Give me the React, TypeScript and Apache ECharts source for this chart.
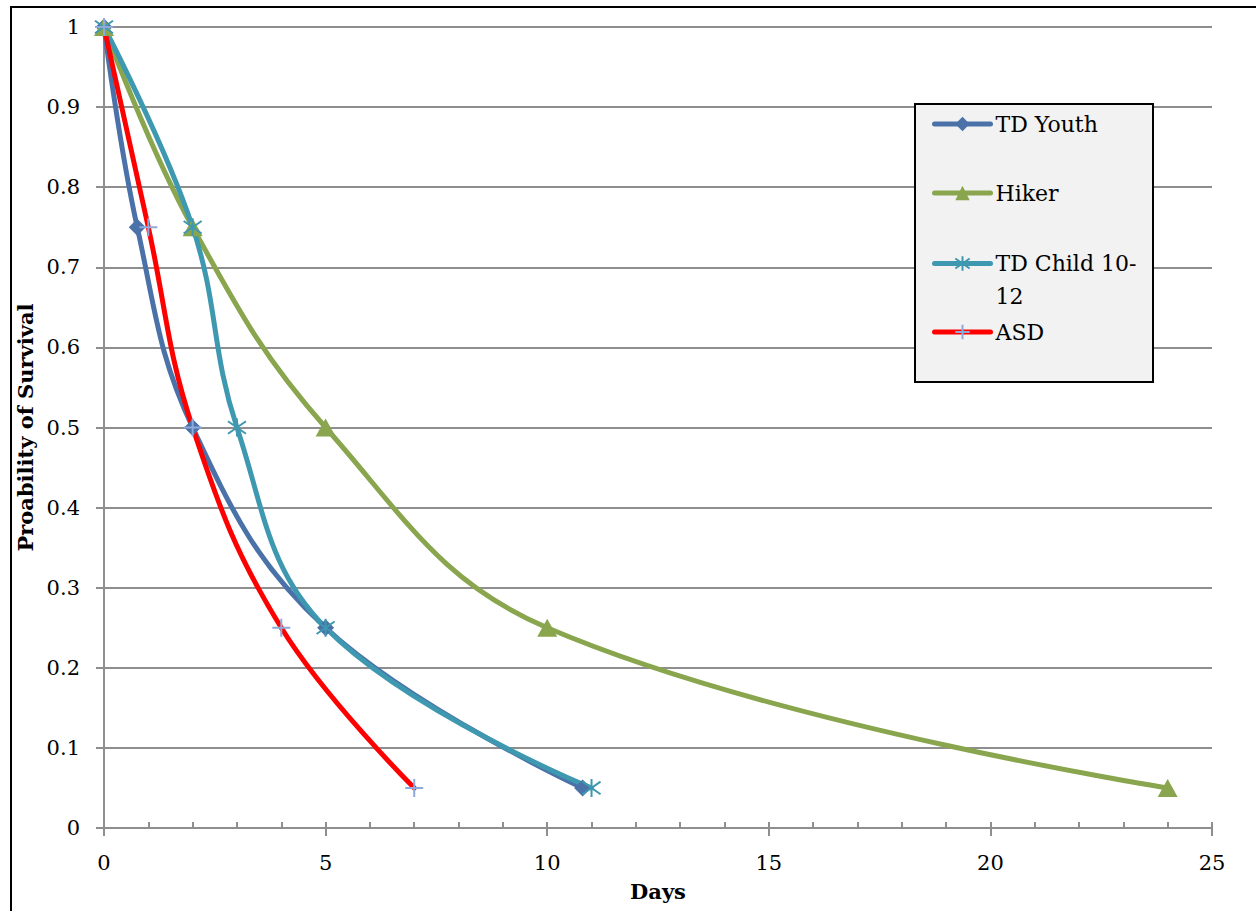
import React, { useEffect, useRef } from "react";
import * as echarts from "echarts";

// ---- data ----
const seriesNames = ["TD Youth", "Hiker", "TD Child 10-12", "ASD"];
const tdYouthDays = [0, 0.75, 2, 5, 10.8];
const tdYouthSurvival = [1, 0.75, 0.5, 0.25, 0.05];
const hikerDays = [0, 2, 5, 10, 24];
const hikerSurvival = [1, 0.75, 0.5, 0.25, 0.05];
const tdChildDays = [0, 2, 3, 5, 11];
const tdChildSurvival = [1, 0.75, 0.5, 0.25, 0.05];
const asdDays = [0, 1, 2, 4, 7];
const asdSurvival = [1, 0.75, 0.5, 0.25, 0.05];

const xTitle = "Days";
const yTitle = "Proability of Survival";

const pair = (xs: number[], ys: number[]) => xs.map((x, i) => [x, ys[i]]);

const FONT = "DejaVu Serif";
const GRID_GRAY = "#8E8E8E";
const colors = ["#4A72A8", "#89A54E", "#3E98B0", "#FF0000"];

const ASTERISK = "path://M10,0L10,20M2,3L18,17M2,17L18,3";
const PLUS = "path://M10,0L10,20M0,10L20,10";

export default function App() {
  const ref = useRef<HTMLDivElement>(null);
  useEffect(() => {
    if (!ref.current) return;
    const chart = echarts.init(ref.current, undefined, { renderer: "svg" });

    const baseSeries = (name: string, data: number[][], color: string) => ({
      name,
      type: "line",
      data,
      smooth: 0.4,
      xAxisIndex: 0,
      yAxisIndex: 0,
      lineStyle: { color, width: 5, cap: "round", join: "round" },
      emphasis: { disabled: true },
    });

    const legendCommon = {
      left: 932,
      orient: "vertical",
      padding: 0,
      itemWidth: 56,
      itemHeight: 18,
      itemGap: 0,
      z: 10,
      selectedMode: false,
      lineStyle: { width: 5, cap: "round" },
      textStyle: {
        fontFamily: FONT,
        fontSize: 22,
        color: "#000",
        lineHeight: 30,
      },
    };

    const option: any = {
      animation: false,
      backgroundColor: "#fff",
      grid: { left: 104, right: 44, top: 27, bottom: 83, containLabel: false },
      xAxis: [
        {
          type: "value",
          min: 0,
          max: 25,
          interval: 5,
          position: "bottom",
          name: xTitle,
          nameLocation: "middle",
          nameGap: 53,
          nameTextStyle: { fontFamily: FONT, fontSize: 21, fontWeight: "bold", color: "#000" },
          axisLine: { show: true, lineStyle: { color: GRID_GRAY, width: 2 } },
          axisTick: { show: true, length: 8, lineStyle: { color: GRID_GRAY, width: 2 } },
          axisLabel: { fontFamily: FONT, fontSize: 21, color: "#000", margin: 24 },
          splitLine: { show: false },
        },
        {
          type: "value",
          min: 0,
          max: 25,
          interval: 1,
          position: "bottom",
          axisLine: { show: false },
          axisTick: { show: true, inside: true, length: 6, lineStyle: { color: GRID_GRAY, width: 2 } },
          axisLabel: { show: false },
          splitLine: { show: false },
        },
      ],
      yAxis: {
        type: "value",
        min: 0,
        max: 1,
        interval: 0.1,
        name: yTitle,
        nameLocation: "middle",
        nameGap: 54,
        nameTextStyle: { fontFamily: FONT, fontSize: 21, fontWeight: "bold", color: "#000" },
        axisLine: { show: true, lineStyle: { color: GRID_GRAY, width: 2 } },
        axisTick: { show: true, length: 8, lineStyle: { color: GRID_GRAY, width: 2 } },
        axisLabel: {
          fontFamily: FONT,
          fontSize: 21,
          color: "#000",
          margin: 24,
          formatter: (v: number) => String(Math.round(v * 10) / 10),
        },
        splitLine: { show: true, lineStyle: { color: GRID_GRAY, width: 2 } },
      },
      legend: [
        { ...legendCommon, top: 109, data: [{ name: seriesNames[0] }] },
        { ...legendCommon, top: 178, data: [{ name: seriesNames[1] }] },
        {
          ...legendCommon,
          top: 214,
          formatter: () => "\nTD Child 10-\n12",
          textStyle: { ...legendCommon.textStyle, lineHeight: 33 },
          data: [{ name: seriesNames[2] }],
        },
        { ...legendCommon, top: 317, data: [{ name: seriesNames[3] }] },
      ],
      graphic: [
        {
          type: "rect",
          z: 1,
          shape: { x: 915, y: 104, width: 238, height: 278 },
          style: { fill: "#F2F2F2", stroke: "#000", lineWidth: 2 },
        },
        {
          type: "rect",
          z: 1,
          shape: { x: 11, y: 7, width: 1400, height: 1000 },
          style: { fill: "none", stroke: "#000", lineWidth: 2 },
        },
      ],
      series: [
        {
          ...baseSeries(seriesNames[0], pair(tdYouthDays, tdYouthSurvival), colors[0]),
          symbol: "diamond",
          symbolSize: 17,
          itemStyle: { color: colors[0] },
        },
        {
          ...baseSeries(seriesNames[1], pair(hikerDays, hikerSurvival), colors[1]),
          symbol: "triangle",
          symbolSize: [20, 18],
          itemStyle: { color: colors[1] },
        },
        {
          ...baseSeries(seriesNames[2], pair(tdChildDays, tdChildSurvival), colors[2]),
          symbol: ASTERISK,
          symbolSize: 18,
          itemStyle: { color: colors[2], borderColor: colors[2], borderWidth: 2 },
        },
        {
          ...baseSeries(seriesNames[3], pair(asdDays, asdSurvival), colors[3]),
          symbol: PLUS,
          symbolSize: 18,
          itemStyle: { color: "#8EA9DB", borderColor: "#8EA9DB", borderWidth: 2 },
        },
      ],
    };

    chart.setOption(option);
    return () => chart.dispose();
  }, []);

  return (
    <div
      ref={ref}
      style={{ position: "absolute", left: 0, top: 0, width: 1256, height: 911 }}
    />
  );
}
